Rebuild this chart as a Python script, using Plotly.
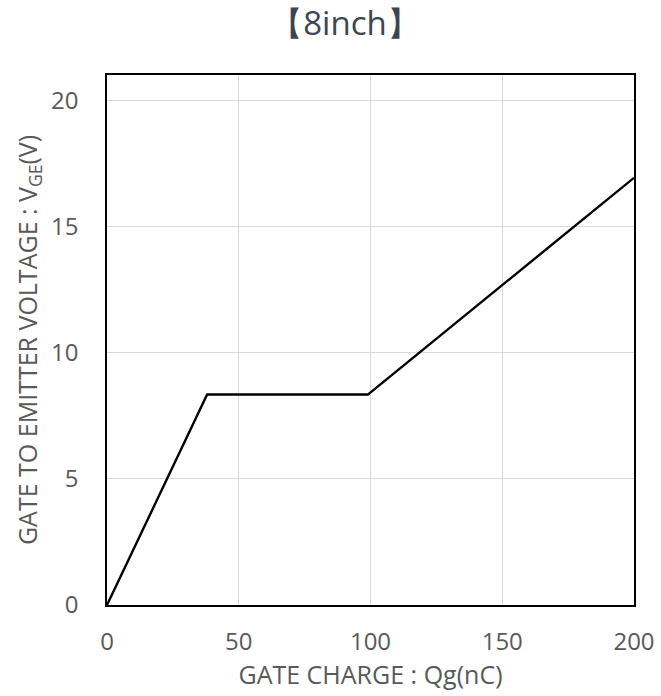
import plotly.graph_objects as go

# Data
gate_charge_nc = [0, 38, 99, 200]
vge_v = [0, 8.35, 8.35, 16.95]
x_ticks = [0, 50, 100, 150, 200]
y_ticks = [0, 5, 10, 15, 20]

FONT = "Open Sans"
GRAY = "#595959"

fig = go.Figure()
fig.add_trace(go.Scatter(
    x=gate_charge_nc, y=vge_v, mode="lines",
    line=dict(color="black", width=2.4),
    showlegend=False, hoverinfo="skip",
))

fig.update_layout(
    width=661, height=696,
    margin=dict(l=107, r=27, t=75, b=91, autoexpand=False),
    paper_bgcolor="white", plot_bgcolor="white",
    title=dict(text="【8inch】", x=345 / 661, xanchor="center",
               y=1 - 23 / 696, yanchor="middle",
               font=dict(family=FONT, size=33, color="#3c4650")),
    font=dict(family=FONT, color=GRAY),
)
fig.update_xaxes(
    range=[0, 200], tickvals=x_ticks, ticktext=[str(v) for v in x_ticks],
    showgrid=True, gridcolor="#d9d9d9", gridwidth=1,
    showline=True, linecolor="black", linewidth=1.5, mirror=True,
    zeroline=False, ticks="outside", ticklen=14, tickcolor="rgba(0,0,0,0)",
    tickfont=dict(family=FONT, size=24, color=GRAY),
    title=dict(text="GATE CHARGE : Qg(nC)", font=dict(family=FONT, size=25, color=GRAY), standoff=4),
    automargin=False,
)
fig.update_yaxes(
    range=[0, 21.03], tickvals=y_ticks, ticktext=[str(v) for v in y_ticks],
    showgrid=True, gridcolor="#d9d9d9", gridwidth=1,
    showline=True, linecolor="black", linewidth=1.5, mirror=True,
    zeroline=False, ticks="outside", ticklen=22, tickcolor="rgba(0,0,0,0)",
    tickfont=dict(family=FONT, size=24, color=GRAY),
    title=dict(text="GATE TO EMITTER VOLTAGE : V<sub>GE</sub>(V)",
               font=dict(family=FONT, size=25, color=GRAY), standoff=6),
    automargin=False,
)

fig.write_html("out.html", config={"displayModeBar": False},
               post_script="document.body.style.margin='0';")
